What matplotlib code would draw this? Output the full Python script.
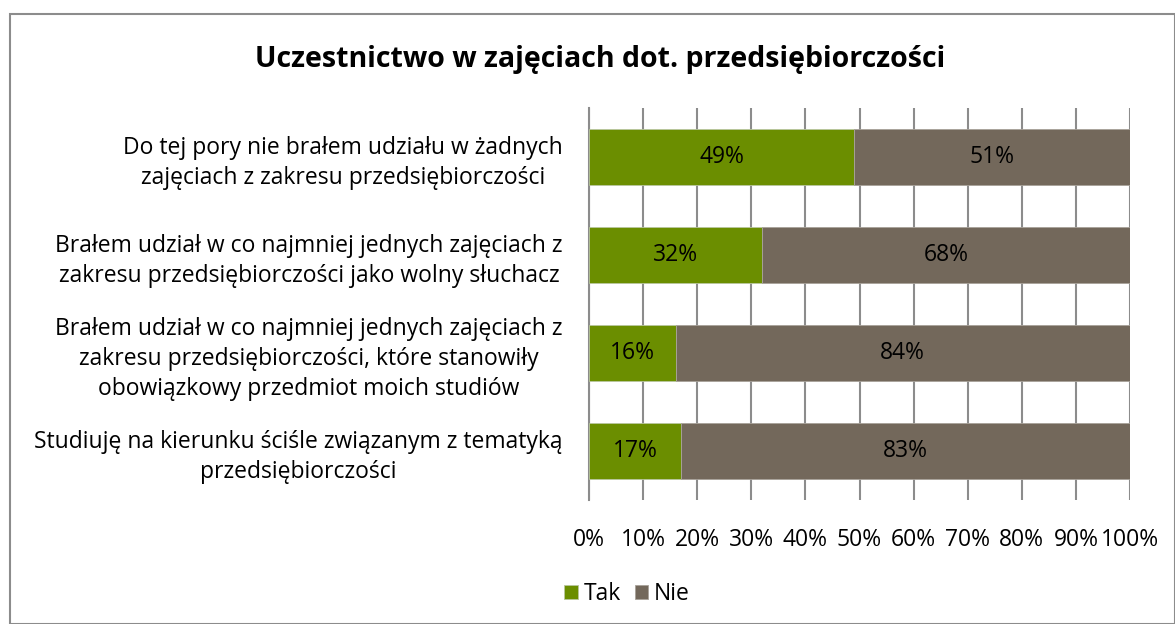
import matplotlib
matplotlib.use("Agg")
import matplotlib.pyplot as plt
from matplotlib.patches import Rectangle
import numpy as np

plt.rcParams['font.family'] = ['Open Sans', 'DejaVu Sans']

categories = [
    "Do tej pory nie brałem udziału w żadnych\nzajęciach z zakresu przedsiębiorczości",
    "Brałem udział w co najmniej jednych zajęciach z\nzakresu przedsiębiorczości jako wolny słuchacz",
    "Brałem udział w co najmniej jednych zajęciach z\nzakresu przedsiębiorczości, które stanowiły\nobowiązkowy przedmiot moich studiów",
    "Studiuję na kierunku ściśle związanym z tematyką\nprzedsiębiorczości",
]
tak = [49, 32, 16, 17]
nie = [51, 68, 84, 83]
series_names = ["Tak", "Nie"]
colors = ["#6B8E00", "#73685B"]
xticks = [0, 10, 20, 30, 40, 50, 60, 70, 80, 90, 100]
xticklabels = [f"{v}%" for v in xticks]
title = "Uczestnictwo w zajęciach dot. przedsiębiorczości"

FS = 16.5

fig = plt.figure(figsize=(11.75, 6.24), dpi=100)
fig.patches.append(Rectangle((10/1175, 0), 1 - 10/1175, 1 - 14/624, transform=fig.transFigure,
                             fill=False, edgecolor="#8C8C8C", linewidth=1.5, zorder=0))
ax = fig.add_axes([589/1175, 1 - 500/624, (1130 - 589)/1175, (500 - 108)/624])

y = np.arange(len(categories))
bh = 0.58
b1 = ax.barh(y, tak, height=bh, color=colors[0], edgecolor="#B9C6A0", linewidth=0.6,
             label=series_names[0], zorder=3)
b2 = ax.barh(y, nie, left=tak, height=bh, color=colors[1], edgecolor="#A8A29A", linewidth=0.6,
             label=series_names[1], zorder=3)
for i in range(len(categories)):
    ax.text(tak[i] / 2, y[i], f"{tak[i]}%", ha="center", va="center", fontsize=FS, zorder=4)
    ax.text(tak[i] + nie[i] / 2, y[i], f"{nie[i]}%", ha="center", va="center", fontsize=FS, zorder=4)

ax.set_xlim(0, 100)
ax.set_ylim(len(categories) - 0.5, -0.5)
ax.set_xticks(xticks)
ax.set_xticklabels(xticklabels, fontsize=FS)
ax.set_yticks(y)
ax.set_yticklabels(categories, fontsize=FS, multialignment="center", ha="right", linespacing=1.35)
ax.tick_params(axis="y", length=0, pad=19)
ax.tick_params(axis="x", length=0, pad=20)
ax.grid(axis="x", color="#8C8C8C", linewidth=1.5, zorder=0)
ax.set_axisbelow(True)
for s in ["top", "right", "bottom"]:
    ax.spines[s].set_visible(False)
ax.spines["left"].set_color("#8C8C8C")
ax.spines["left"].set_linewidth(1.5)

fig.text(600/1175, 1 - 59/624, title, ha="center", va="center", fontsize=20.5, fontweight="bold")

fig.legend(handles=[b1, b2], labels=series_names, loc="center", bbox_to_anchor=(627/1175, 1 - 594/624),
           ncol=2, frameon=False, fontsize=FS, handlelength=0.6, handleheight=0.6,
           handletextpad=0.25, columnspacing=0.6)

fig.savefig("out.png", dpi=100)
